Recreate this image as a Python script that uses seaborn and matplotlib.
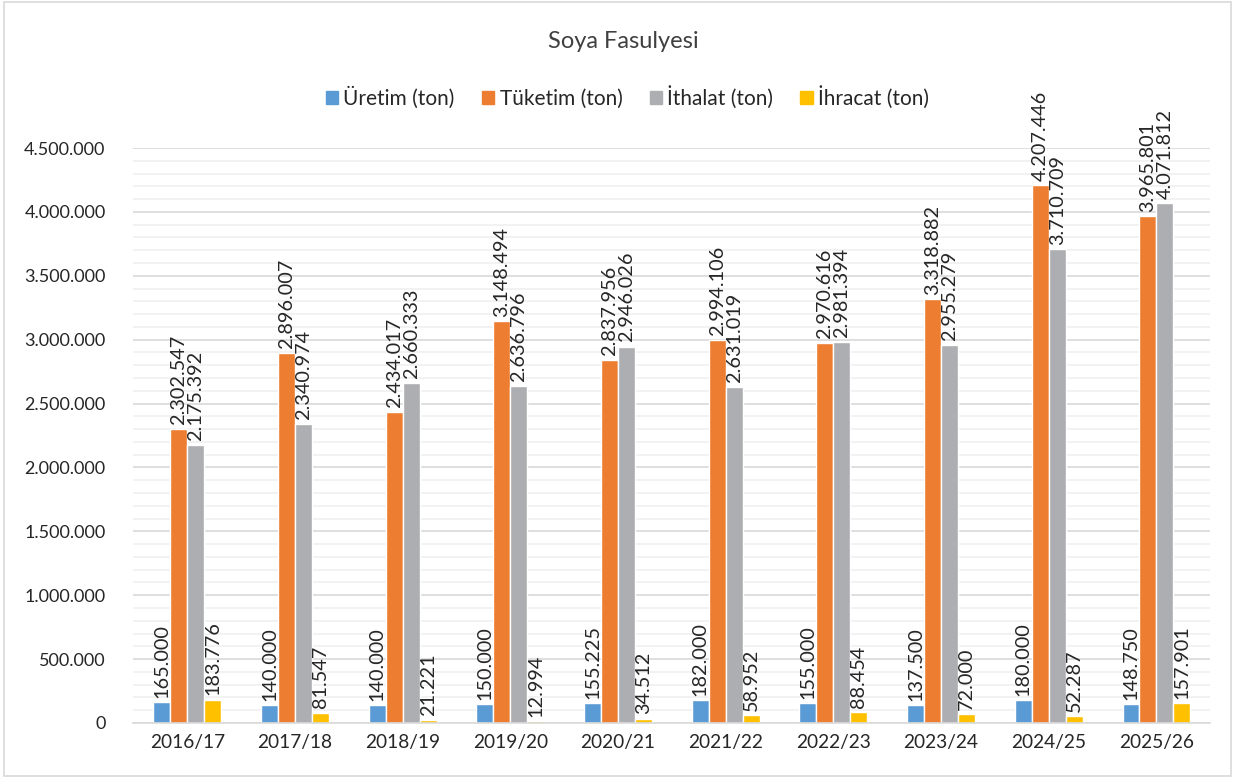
import pandas as pd
import matplotlib
matplotlib.use("Agg")
import matplotlib.pyplot as plt
import seaborn as sns
from matplotlib.ticker import MultipleLocator, FuncFormatter
from matplotlib.patches import Rectangle

# --- data ---
seasons = ["2016/17", "2017/18", "2018/19", "2019/20", "2020/21",
           "2021/22", "2022/23", "2023/24", "2024/25", "2025/26"]
uretim = [165000, 140000, 140000, 150000, 155225, 182000, 155000, 137500, 180000, 148750]
tuketim = [2302547, 2896007, 2434017, 3148494, 2837956, 2994106, 2970616, 3318882, 4207446, 3965801]
ithalat = [2175392, 2340974, 2660333, 2636796, 2946026, 2631019, 2981394, 2955279, 3710709, 4071812]
ihracat = [183776, 81547, 21221, 12994, 34512, 58952, 88454, 72000, 52287, 157901]

series_names = ["Üretim (ton)", "Tüketim (ton)", "İthalat (ton)", "İhracat (ton)"]
colors = ["#5B9BD5", "#ED7D31", "#ADAEB1", "#FFC000"]


def tr_fmt(v):
    # Turkish style thousands separator
    return f"{int(round(v)):,}".replace(",", ".")


df = pd.DataFrame({
    "season": seasons * 4,
    "series": [s for s in series_names for _ in seasons],
    "value": uretim + tuketim + ithalat + ihracat,
})

sns.set_style("white")
plt.rcParams["font.family"] = ["Lato", "DejaVu Sans"]

fig = plt.figure(figsize=(12.35, 7.78), dpi=100)
ax = fig.add_axes([0.108, 0.0707, 0.872, 0.7390])

sns.barplot(data=df, x="season", y="value", hue="series", order=seasons,
            hue_order=series_names, palette=colors, width=0.63,
            saturation=1, ax=ax, legend=False)

# value labels above each bar
for cont in ax.containers:
    vals = [b.get_height() for b in cont]
    ax.bar_label(cont, labels=[tr_fmt(v) for v in vals], rotation=90,
                 padding=3, fontsize=14.3, color="#262626")

ax.set_ylim(0, 4500000)
ax.set_xlim(-0.5, 9.5)
ax.yaxis.set_major_locator(MultipleLocator(500000))
ax.yaxis.set_minor_locator(MultipleLocator(100000))
ax.yaxis.set_major_formatter(FuncFormatter(lambda v, p: tr_fmt(v)))
ax.grid(which="major", axis="y", color="#d9d9d9", linewidth=1.2)
ax.grid(which="minor", axis="y", color="#f0f0f0", linewidth=1.2)
ax.set_axisbelow(True)
ax.tick_params(axis="both", which="both", length=0, labelsize=13,
               labelcolor="#262626")
ax.tick_params(axis="x", labelsize=13.8, pad=8)
ax.tick_params(axis="y", pad=20)
ax.set_xlabel("")
ax.set_ylabel("")
for side in ["top", "left", "right"]:
    ax.spines[side].set_visible(False)
ax.spines["bottom"].set_color("#d9d9d9")
ax.spines["bottom"].set_linewidth(1.2)

# title and legend
fig.text(0.505, 1 - 42 / 778, "Soya Fasulyesi", ha="center", va="center",
         fontsize=17, color="#404040")
handles = [Rectangle((0, 0), 1, 1, color=c) for c in colors]
fig.legend(handles, series_names, loc="center", ncol=4,
           bbox_to_anchor=(0.508, 1 - 97 / 778), frameon=False,
           fontsize=15, handlelength=0.6, handleheight=0.6,
           handletextpad=0.25, columnspacing=1.3, labelcolor="#262626")

# light chart-area border
fig.patches.append(Rectangle((0.003, 0.003), 0.994, 0.994, transform=fig.transFigure,
                             fill=False, edgecolor="#d9d9d9", linewidth=1.2))

fig.savefig("out.png", dpi=100, facecolor="white")
